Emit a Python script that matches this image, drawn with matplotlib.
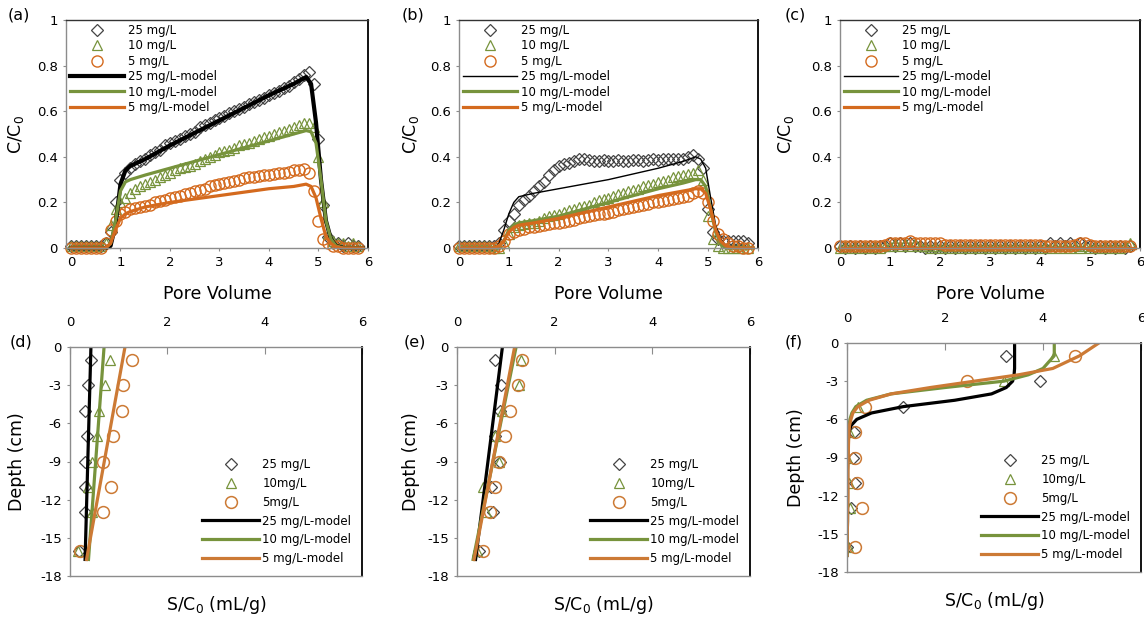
## Breakthrough curves (a-c) and retention profiles (d-f)
import matplotlib
matplotlib.use('Agg')
import matplotlib.pyplot as plt

plt.rcParams['font.family'] = ['DejaVu Sans']
plt.rcParams['axes.unicode_minus'] = False

## Data: breakthrough curves, pore volume grid shared by the measured points
x_pv = [0.0, 0.1, 0.2, 0.3, 0.4, 0.5, 0.6, 0.7, 0.8, 0.9,
        1.0, 1.1, 1.2, 1.3, 1.4, 1.5, 1.6, 1.7, 1.8, 1.9,
        2.0, 2.1, 2.2, 2.3, 2.4, 2.5, 2.6, 2.7, 2.8, 2.9,
        3.0, 3.1, 3.2, 3.3, 3.4, 3.5, 3.6, 3.7, 3.8, 3.9,
        4.0, 4.1, 4.2, 4.3, 4.4, 4.5, 4.6, 4.7, 4.8, 4.9,
        5.0, 5.1, 5.2, 5.3, 5.4, 5.5, 5.6, 5.7, 5.8]

a_25 = [0.01, 0.01, 0.01, 0.01, 0.01, 0.01, 0.01, 0.02, 0.07, 0.20,
        0.30, 0.33, 0.35, 0.37, 0.38, 0.39, 0.41, 0.42, 0.43, 0.45,
        0.46, 0.47, 0.48, 0.49, 0.50, 0.51, 0.53, 0.54, 0.55, 0.56,
        0.57, 0.58, 0.59, 0.60, 0.61, 0.62, 0.63, 0.64, 0.65, 0.66,
        0.67, 0.68, 0.69, 0.70, 0.71, 0.73, 0.74, 0.76, 0.77, 0.72,
        0.48, 0.19, 0.05, 0.02, 0.02, 0.01, 0.02, 0.01, 0.01]
a_10 = [0.01, 0.01, 0.01, 0.01, 0.01, 0.01, 0.01, 0.02, 0.10, 0.17,
        0.20, 0.22, 0.24, 0.26, 0.27, 0.28, 0.29, 0.30, 0.31, 0.32,
        0.33, 0.34, 0.35, 0.355, 0.36, 0.37, 0.38, 0.39, 0.40, 0.41,
        0.42, 0.425, 0.43, 0.44, 0.45, 0.455, 0.46, 0.47, 0.48, 0.485,
        0.49, 0.50, 0.51, 0.515, 0.52, 0.53, 0.54, 0.55, 0.55, 0.53,
        0.40, 0.20, 0.06, 0.03, 0.02, 0.02, 0.01, 0.02, 0.01]
a_5 = [0.0, 0.0, 0.0, 0.0, 0.0, 0.0, 0.0, 0.02, 0.08, 0.12,
       0.15, 0.16, 0.17, 0.175, 0.18, 0.185, 0.19, 0.20, 0.205, 0.21,
       0.22, 0.225, 0.23, 0.235, 0.24, 0.25, 0.255, 0.26, 0.27, 0.275,
       0.28, 0.285, 0.29, 0.295, 0.30, 0.305, 0.31, 0.31, 0.315, 0.32,
       0.32, 0.325, 0.33, 0.33, 0.335, 0.34, 0.34, 0.345, 0.33, 0.25,
       0.12, 0.04, 0.02, 0.01, 0.01, 0.0, 0.0, 0.0, 0.0]

b_25 = [0.01, 0.01, 0.01, 0.01, 0.01, 0.01, 0.01, 0.01, 0.02, 0.08,
        0.12, 0.15, 0.19, 0.21, 0.23, 0.25, 0.27, 0.29, 0.32, 0.34,
        0.36, 0.37, 0.375, 0.38, 0.39, 0.39, 0.385, 0.38, 0.38, 0.385,
        0.38, 0.38, 0.385, 0.38, 0.38, 0.385, 0.385, 0.38, 0.385, 0.39,
        0.385, 0.39, 0.39, 0.39, 0.39, 0.39, 0.40, 0.41, 0.39, 0.35,
        0.17, 0.07, 0.04, 0.03, 0.03, 0.03, 0.03, 0.03, 0.02]
b_10 = [0.01, 0.01, 0.01, 0.01, 0.01, 0.01, 0.01, 0.0, 0.0, 0.02,
        0.06, 0.09, 0.10, 0.105, 0.11, 0.11, 0.12, 0.13, 0.14, 0.145,
        0.15, 0.16, 0.165, 0.17, 0.18, 0.185, 0.19, 0.20, 0.21, 0.215,
        0.22, 0.23, 0.235, 0.24, 0.25, 0.255, 0.26, 0.27, 0.275, 0.28,
        0.29, 0.295, 0.30, 0.31, 0.315, 0.32, 0.325, 0.33, 0.34, 0.30,
        0.14, 0.04, 0.01, 0.0, 0.0, 0.0, 0.0, 0.0, 0.0]
b_5 = [0.0, 0.0, 0.0, 0.0, 0.0, 0.0, 0.0, 0.0, 0.01, 0.03,
       0.06, 0.07, 0.08, 0.085, 0.09, 0.09, 0.095, 0.10, 0.105, 0.11,
       0.11, 0.115, 0.12, 0.125, 0.13, 0.135, 0.14, 0.145, 0.15, 0.15,
       0.155, 0.16, 0.165, 0.17, 0.175, 0.18, 0.185, 0.19, 0.195, 0.20,
       0.20, 0.205, 0.21, 0.215, 0.22, 0.225, 0.23, 0.24, 0.25, 0.24,
       0.20, 0.12, 0.06, 0.04, 0.02, 0.01, 0.01, 0.0, 0.0]

c_25 = [0.01, 0.0, 0.01, 0.0, 0.01, 0.0, 0.01, 0.0, 0.01, 0.01,
        0.02, 0.01, 0.02, 0.01, 0.02, 0.01, 0.01, 0.0, 0.01, 0.0,
        0.01, 0.0, 0.01, 0.0, 0.01, 0.0, 0.01, 0.0, 0.01, 0.0,
        0.01, 0.0, 0.01, 0.0, 0.01, 0.0, 0.01, 0.0, 0.01, 0.0,
        0.01, 0.0, 0.02, 0.01, 0.02, 0.01, 0.02, 0.01, 0.02, 0.01,
        0.01, 0.0, 0.01, 0.0, 0.01, 0.0, 0.01, 0.0, 0.01]
c_10 = [0.0, 0.01, 0.0, 0.01, 0.0, 0.01, 0.0, 0.01, 0.0, 0.01,
        0.01, 0.02, 0.01, 0.02, 0.01, 0.02, 0.01, 0.01, 0.0, 0.01,
        0.0, 0.01, 0.0, 0.01, 0.0, 0.01, 0.0, 0.01, 0.0, 0.01,
        0.0, 0.01, 0.0, 0.01, 0.0, 0.01, 0.0, 0.01, 0.0, 0.01,
        0.0, 0.01, 0.0, 0.01, 0.0, 0.01, 0.0, 0.01, 0.0, 0.01,
        0.0, 0.01, 0.0, 0.01, 0.0, 0.01, 0.0, 0.01, 0.02]
c_5 = [0.01, 0.01, 0.01, 0.01, 0.01, 0.01, 0.01, 0.01, 0.01, 0.015,
       0.02, 0.02, 0.02, 0.02, 0.03, 0.02, 0.02, 0.02, 0.02, 0.02,
       0.02, 0.015, 0.015, 0.015, 0.015, 0.015, 0.015, 0.015, 0.015, 0.015,
       0.015, 0.015, 0.015, 0.015, 0.015, 0.015, 0.015, 0.015, 0.015, 0.015,
       0.015, 0.01, 0.01, 0.01, 0.01, 0.01, 0.01, 0.015, 0.02, 0.02,
       0.015, 0.01, 0.01, 0.01, 0.01, 0.01, 0.01, 0.01, 0.01]

## Model curves (breakthrough)
model_pv = [0.0, 0.6, 0.7, 0.8, 0.9, 1.0, 1.1, 1.2, 1.5, 2.0, 3.0,
            4.0, 4.5, 4.75, 4.85, 4.95, 5.05, 5.15, 5.25, 5.35, 5.5, 5.9]
a_25_model = [0.0, 0.0, 0.0, 0.01, 0.10, 0.28, 0.34, 0.36, 0.39, 0.45, 0.56,
              0.67, 0.72, 0.75, 0.72, 0.55, 0.30, 0.12, 0.04, 0.01, 0.0, 0.0]
a_10_model = [0.0, 0.0, 0.0, 0.02, 0.12, 0.25, 0.29, 0.30, 0.32, 0.35, 0.41,
              0.47, 0.50, 0.515, 0.51, 0.46, 0.30, 0.12, 0.04, 0.01, 0.0, 0.0]
a_5_model = [0.0, 0.0, 0.0, 0.02, 0.08, 0.13, 0.15, 0.16, 0.18, 0.20, 0.23,
             0.26, 0.27, 0.28, 0.27, 0.22, 0.13, 0.05, 0.02, 0.005, 0.0, 0.0]
b_25_model = [0.0, 0.0, 0.0, 0.02, 0.08, 0.15, 0.20, 0.225, 0.24, 0.26, 0.30,
              0.35, 0.38, 0.40, 0.39, 0.35, 0.22, 0.10, 0.04, 0.01, 0.0, 0.0]
b_10_model = [0.0, 0.0, 0.0, 0.01, 0.03, 0.08, 0.10, 0.11, 0.12, 0.14, 0.20,
              0.26, 0.285, 0.30, 0.30, 0.27, 0.17, 0.07, 0.02, 0.0, 0.0, 0.0]
b_5_model = [0.0, 0.0, 0.0, 0.01, 0.03, 0.07, 0.09, 0.10, 0.11, 0.13, 0.18,
             0.23, 0.25, 0.26, 0.26, 0.24, 0.17, 0.08, 0.03, 0.01, 0.0, 0.0]
model_pv_c = [0.0, 5.9]
c_25_model = [0.0, 0.0]
c_10_model = [0.0, 0.0]
c_5_model = [0.0, 0.0]

## Data: retention profiles
depth_pts = [-1, -3, -5, -7, -9, -11, -13, -16]
d_25 = [0.43, 0.38, 0.31, 0.34, 0.31, 0.31, 0.31, 0.19]
d_10 = [0.83, 0.71, 0.60, 0.56, 0.46, 0.36, 0.46, 0.16]
d_5 = [1.27, 1.09, 1.06, 0.89, 0.67, 0.84, 0.67, 0.20]
e_25 = [0.77, 0.91, 0.89, 0.77, 0.89, 0.70, 0.74, 0.46]
e_10 = [1.32, 1.27, 0.93, 0.77, 0.85, 0.53, 0.60, 0.40]
e_5 = [1.34, 1.25, 1.08, 0.98, 0.87, 0.77, 0.67, 0.53]
f_25 = [3.25, 3.94, 1.15, 0.14, 0.12, 0.16, 0.09, 0.0]
f_10 = [4.23, 3.20, 0.23, 0.05, 0.0, 0.04, 0.07, 0.02]
f_5 = [4.66, 2.45, 0.36, 0.16, 0.16, 0.21, 0.30, 0.16]

model_depth_lin = [0.0, -16.7]
d_25_model = [0.43, 0.31]
d_10_model = [0.70, 0.38]
d_5_model = [1.13, 0.34]
e_25_model = [0.93, 0.38]
e_10_model = [1.21, 0.33]
e_5_model = [1.18, 0.35]
model_depth_f = [0.0, -1, -2, -2.5, -3, -3.5, -4, -4.5, -5, -5.5, -6,
                 -6.5, -7, -8, -10, -12, -14, -16.7]
f_25_model = [3.42, 3.42, 3.42, 3.41, 3.38, 3.25, 2.95, 2.2, 1.15, 0.5, 0.2,
              0.08, 0.04, 0.02, 0.01, 0.01, 0.01, 0.0]
f_10_model = [4.23, 4.23, 4.0, 3.7, 3.2, 2.0, 0.9, 0.4, 0.18, 0.1, 0.06,
              0.04, 0.03, 0.02, 0.01, 0.01, 0.01, 0.0]
f_5_model = [5.14, 4.75, 4.2, 3.5, 2.6, 1.7, 0.9, 0.45, 0.22, 0.12, 0.08,
             0.05, 0.04, 0.03, 0.02, 0.02, 0.01, 0.0]

## Ticks and labels
pv_ticks = [0, 1, 2, 3, 4, 5, 6]
c_ticks = [0, 0.2, 0.4, 0.6, 0.8, 1]
c_tick_labels = ['0', '0.2', '0.4', '0.6', '0.8', '1']
s_ticks = [0, 2, 4, 6]
depth_ticks = [0, -3, -6, -9, -12, -15, -18]
top_labels = ['25 mg/L', '10 mg/L', '5 mg/L',
              '25 mg/L-model', '10 mg/L-model', '5 mg/L-model']
bottom_labels = ['25 mg/L', '10mg/L', '5mg/L',
                 '25 mg/L-model', '10 mg/L-model', '5 mg/L-model']

green = '#77933C'
orange = '#D46A1E'
orange2 = '#CC7A35'
grey = '#8C8C8C'

fig = plt.figure(figsize=(11.44, 6.17), dpi=100)
W, H = 1144, 617


def rect(left, top, right, bottom):
    return [left / W, 1 - bottom / H, (right - left) / W, (bottom - top) / H]


def style_spines(ax, right_color):
    for s in ['left', 'bottom', 'top']:
        ax.spines[s].set_color(grey)
        ax.spines[s].set_linewidth(1.0)
    ax.spines['right'].set_color(right_color)
    ax.spines['right'].set_linewidth(1.3)


def breakthrough(ax, d25, d10, d5, mx, m25, m10, m5, lw25, xmin, ylab_x):
    h1, = ax.plot(x_pv, d25, 'D', ms=6, mfc='none', mec='#444444', mew=0.9, clip_on=False)
    h2, = ax.plot(x_pv, d10, '^', ms=7, mfc='none', mec=green, mew=0.9, clip_on=False)
    h3, = ax.plot(x_pv, d5, 'o', ms=8, mfc='none', mec=orange, mew=1.0, clip_on=False)
    l1, = ax.plot(mx, m25, color='black', lw=lw25, clip_on=False)
    l2, = ax.plot(mx, m10, color=green, lw=2.3, clip_on=False)
    l3, = ax.plot(mx, m5, color=orange, lw=2.3, clip_on=False)
    ax.set_xlim(xmin, 6)
    ax.set_ylim(0, 1)
    ax.set_xticks(pv_ticks)
    ax.set_yticks(c_ticks)
    ax.set_yticklabels(c_tick_labels)
    ax.tick_params(labelsize=9.5, length=2, color=grey, pad=4)
    ax.set_xlabel('Pore Volume', fontsize=12.5)
    ax.set_ylabel('C/C$_0$', fontsize=12.5)
    ax.xaxis.set_label_coords(0.5, -0.162)
    ax.yaxis.set_label_coords(ylab_x, 0.5)
    style_spines(ax, 'black')
    ax.spines['top'].set_color('#333333')
    ax.legend([h1, h2, h3, l1, l2, l3], top_labels, loc='upper left',
              bbox_to_anchor=(0, 1.0), frameon=False, fontsize=8.5,
              handlelength=4.6, handletextpad=0.3, labelspacing=0.2,
              borderpad=0.15, borderaxespad=0.2)


def profile(ax, d25, d10, d5, my, m25, m10, m5, ylab_x):
    h1, = ax.plot(d25, depth_pts, 'D', ms=6, mfc='none', mec='#444444', mew=0.9, ls='none')
    h2, = ax.plot(d10, depth_pts, '^', ms=7, mfc='none', mec=green, mew=0.9, ls='none')
    h3, = ax.plot(d5, depth_pts, 'o', ms=8.5, mfc='none', mec=orange2, mew=1.1, ls='none')
    l1, = ax.plot(m25, my, color='black', lw=2.3)
    l2, = ax.plot(m10, my, color=green, lw=2.3)
    l3, = ax.plot(m5, my, color=orange2, lw=2.3)
    ax.set_xlim(0, 6)
    ax.set_ylim(-18, 0)
    ax.xaxis.tick_top()
    ax.xaxis.set_label_position('bottom')
    ax.set_xticks(s_ticks)
    ax.set_yticks(depth_ticks)
    ax.tick_params(axis='x', direction='in', length=5, color=grey, labelsize=9.5, pad=13)
    ax.tick_params(axis='y', length=2, color=grey, labelsize=9.5, pad=4)
    ax.set_xlabel('S/C$_0$ (mL/g)', fontsize=12.5)
    ax.set_ylabel('Depth (cm)', fontsize=12.5)
    ax.xaxis.set_label_coords(0.5, -0.08)
    ax.yaxis.set_label_coords(ylab_x, 0.5)
    style_spines(ax, 'black')
    ax.legend([h1, h2, h3, l1, l2, l3], bottom_labels, loc='lower right',
              bbox_to_anchor=(1, 0), frameon=False, fontsize=8.5,
              handlelength=4.8, handletextpad=0.3, labelspacing=0.5,
              borderpad=0.3, borderaxespad=0.6)


ax_a = fig.add_axes(rect(66, 20, 368, 248))
breakthrough(ax_a, a_25, a_10, a_5, model_pv, a_25_model, a_10_model, a_5_model, 3.0, -0.1, -0.132)
ax_b = fig.add_axes(rect(459, 20, 758, 248))
breakthrough(ax_b, b_25, b_10, b_5, model_pv, b_25_model, b_10_model, b_5_model, 1.0, 0, -0.127)
ax_c = fig.add_axes(rect(840, 20, 1140, 248))
breakthrough(ax_c, c_25, c_10, c_5, model_pv_c, c_25_model, c_10_model, c_5_model, 1.0, 0, -0.147)

ax_d = fig.add_axes(rect(70, 347, 362, 576))
profile(ax_d, d_25, d_10, d_5, model_depth_lin, d_25_model, d_10_model, d_5_model, -0.15)
ax_e = fig.add_axes(rect(457, 347, 750, 576))
profile(ax_e, e_25, e_10, e_5, model_depth_lin, e_25_model, e_10_model, e_5_model, -0.126)
ax_f = fig.add_axes(rect(847, 343, 1141, 572))
profile(ax_f, f_25, f_10, f_5, model_depth_f, f_25_model, f_10_model, f_5_model, -0.143)

## Panel letters
for lab, px, py in [('(a)', 8, 15), ('(b)', 402, 15), ('(c)', 785, 15),
                    ('(d)', 10, 342), ('(e)', 404, 342), ('(f)', 785, 342)]:
    fig.text(px / W, 1 - py / H, lab, fontsize=11.5, va='center', ha='left')

plt.savefig('out.png', dpi=100)
